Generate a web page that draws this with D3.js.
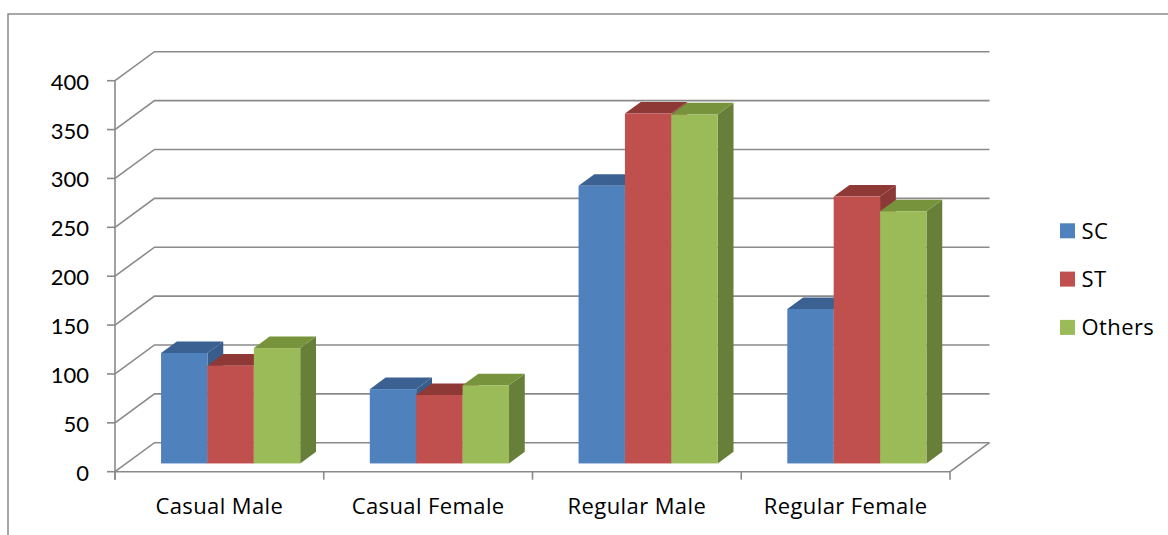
<!DOCTYPE html>
<html>
<head>
<meta charset="utf-8">
<script src="https://cdn.jsdelivr.net/npm/d3@7"></script>
<style>
  html, body { margin: 0; padding: 0; background: #fff; }
  svg { display: block; }
  text { font-family: Lato, "Open Sans", "DejaVu Sans", sans-serif; fill: #000; }
  text.wide { font-family: "Open Sans", Lato, "DejaVu Sans", sans-serif; letter-spacing: 0.4px; }
</style>
</head>
<body>
<svg id="chart" width="1168" height="535"></svg>
<script>
// Workforce counts by employment type and social group
const categories = ["Casual Male", "Casual Female", "Regular Male", "Regular Female"];
const seriesNames = ["SC", "ST", "Others"];
const scValues = [113, 76, 284, 158];
const stValues = [100, 70, 358, 273];
const othersValues = [118, 80, 357, 258];
const yTicks = [0, 50, 100, 150, 200, 250, 300, 350, 400];

const seriesValues = [scValues, stValues, othersValues];
const palette = [
  { front: "#4F81BD", top: "#3B6192", side: "#385D8A" },
  { front: "#C0504D", top: "#8F3937", side: "#8C3836" },
  { front: "#9BBB59", top: "#77933C", side: "#677F38" }
];

const svg = d3.select("#chart");
const gridColor = "#8a8a8a";

// Oblique projection: front plane plus a depth vector toward the back wall
const plotLeft = 115, plotRight = 950;
const depth = { dx: 39.5, dy: -29 };
const barDepthStart = 0.285, barDepthSize = 0.4;

const y = d3.scaleLinear().domain([0, 400]).range([471.7, 80.7]);
const x = d3.scaleBand().domain(categories).range([plotLeft, plotRight]).paddingInner(0).paddingOuter(0);
const xInner = d3.scaleBand().domain(seriesNames).range([0, x.bandwidth()]).paddingInner(0).paddingOuter(0.75);

// Outer chart frame
svg.append("rect")
  .attr("x", 8).attr("y", 14).attr("width", 1200).attr("height", 600)
  .attr("fill", "none").attr("stroke", gridColor).attr("stroke-width", 1.5);

// Side wall diagonals and back wall gridlines
const line = d3.line();
svg.append("g").selectAll("path").data(yTicks).join("path")
  .attr("d", v => line([
    [plotLeft, y(v)],
    [plotLeft + depth.dx, y(v) + depth.dy],
    [plotRight + depth.dx, y(v) + depth.dy]
  ]))
  .attr("fill", "none").attr("stroke", gridColor).attr("stroke-width", 1.6);

// Floor front and right edges
svg.append("path")
  .attr("d", line([
    [plotLeft, y(0)],
    [plotRight, y(0)],
    [plotRight + depth.dx, y(0) + depth.dy]
  ]))
  .attr("fill", "none").attr("stroke", gridColor).attr("stroke-width", 1.6);

// Value axis line and ticks
svg.append("line")
  .attr("x1", plotLeft).attr("x2", plotLeft)
  .attr("y1", y(400)).attr("y2", y(0) + 8)
  .attr("stroke", gridColor).attr("stroke-width", 1.6);
svg.append("g").selectAll("line").data(yTicks).join("line")
  .attr("x1", plotLeft - 8).attr("x2", plotLeft)
  .attr("y1", v => y(v)).attr("y2", v => y(v))
  .attr("stroke", gridColor).attr("stroke-width", 1.6);
svg.append("g").selectAll("text").data(yTicks).join("text")
  .attr("x", 89).attr("y", v => y(v) + 9)
  .attr("text-anchor", "end")
  .attr("font-size", 22)
  .text(d => d);

// Category ticks on the floor's front edge
const catEdges = categories.map(c => x(c)).concat([plotRight]);
svg.append("g").selectAll("line").data(catEdges).join("line")
  .attr("x1", d => d).attr("x2", d => d)
  .attr("y1", y(0)).attr("y2", y(0) + 8)
  .attr("stroke", gridColor).attr("stroke-width", 1.6);
svg.append("g").selectAll("text").data(categories).join("text")
  .attr("class", "wide")
  .attr("x", c => x(c) + x.bandwidth() / 2)
  .attr("y", 514)
  .attr("text-anchor", "middle")
  .attr("font-size", 22)
  .text(c => c);

// 3D columns: right side, top, then front face, drawn left to right
const ox = barDepthStart * depth.dx, oy = barDepthStart * depth.dy;
const bx = barDepthSize * depth.dx, by = barDepthSize * depth.dy;
const bars = [];
categories.forEach((c, i) => {
  seriesNames.forEach((s, j) => {
    bars.push({ c, s, j, v: seriesValues[j][i] });
  });
});

const barG = svg.append("g").selectAll("g").data(bars).join("g");
barG.each(function(d) {
  const g = d3.select(this);
  const x0 = x(d.c) + xInner(d.s) + ox;
  const x1 = x0 + xInner.bandwidth();
  const yb = y(0) + oy;
  const yt = y(d.v) + oy;
  const col = palette[d.j];
  g.append("path")
    .attr("d", line([[x1, yt], [x1 + bx, yt + by], [x1 + bx, yb + by], [x1, yb]]) + "Z")
    .attr("fill", col.side);
  g.append("path")
    .attr("d", line([[x0, yt], [x1, yt], [x1 + bx, yt + by], [x0 + bx, yt + by]]) + "Z")
    .attr("fill", col.top);
  g.append("rect")
    .attr("x", x0).attr("y", yt)
    .attr("width", x1 - x0).attr("height", yb - yt)
    .attr("fill", col.front);
});

// Legend
const legend = svg.append("g").selectAll("g").data(seriesNames).join("g")
  .attr("transform", (d, i) => `translate(1060, ${223.3 + i * 48.3})`);
legend.append("rect")
  .attr("width", 15).attr("height", 15)
  .attr("fill", (d, i) => palette[i].front);
legend.append("text")
  .attr("class", "wide")
  .attr("x", 21.5).attr("y", 15.5)
  .attr("font-size", 22)
  .text(d => d);
</script>
</body>
</html>
